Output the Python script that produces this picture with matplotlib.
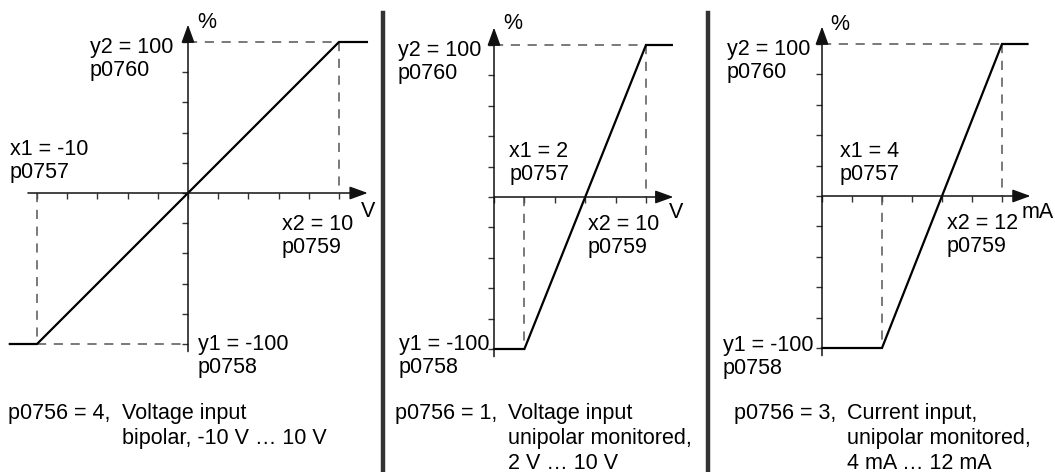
import matplotlib
matplotlib.use("Agg")
import matplotlib.pyplot as plt
from matplotlib.lines import Line2D

W, H = 1055, 472

plt.rcParams['font.family'] = ['Liberation Sans', 'DejaVu Sans']
plt.rcParams['font.size'] = 15.5

# corner points of the scaling characteristic (x in V / mA, y in %)
y1, y2 = -100, 100
x1_vals = [-10, 2, 4]
x2_vals = [10, 10, 12]

# characteristic incl. the limited (flat) parts
curve_x = [
    [-11.8, -10, 10, 11.85],
    [0, 2, 10, 11.7],
    [0, 4, 12, 13.7],
]
curve_y = [
    [-100, -100, 100, 100],
    [-100, -100, 100, 100],
    [-100, -100, 100, 100],
]

x_ticks = [list(range(-10, 11, 2)), list(range(0, 11, 2)), list(range(0, 13, 2))]
y_ticks = list(range(-100, 101, 20))
units = ["V", "V", "mA"]

x1_labels = ["x1 = -10\np0757", "x1 = 2\np0757", "x1 = 4\np0757"]
x2_labels = ["x2 = 10\np0759", "x2 = 10\np0759", "x2 = 12\np0759"]
y1_label = "y1 = -100\np0758"
y2_label = "y2 = 100\np0760"
codes = ["p0756 = 4,", "p0756 = 1,", "p0756 = 3,"]
descriptions = [
    "Voltage input\nbipolar, -10 V \u2026 10 V",
    "Voltage input\nunipolar monitored,\n2 V \u2026 10 V",
    "Current input,\nunipolar monitored,\n4 mA \u2026 12 mA",
]

# layout in pixels
frames = [(0, 383), (383, 325), (708, 347)]
origins = [(188, 193), (494, 197), (822, 196)]
scales = [(15.1, 1.51), (15.2, 1.52), (15.0, 1.52)]
x_axis_start = [-10.6, 0, 0]
x_axis_end = [11.9, 11.8, 13.9]
y_axis_start, y_axis_end = -105, 111.5

# label offsets (left edge / first baseline) from the point they belong to
y2_off = [(-98, -11), (-96, -11), (-95, -11)]
x1_off = [(-27, 38), (-15, 40), (-42, 39)]
x2_off = [(-57, -37), (-58, -33), (-55, -33)]
y1_off = [(10, -6), (-95, -1), (-99, -3)]
pct_off = [(19, 2), (19, 4), (18, 2)]
unit_off = [(0, -19), (3, -15), (7, -17)]
code_left = [8, 395, 734]
desc_left = [122, 508, 847]
caption_base = 419
label_step = 23
caption_step = 25

fig = plt.figure(figsize=(W / 100, H / 100), dpi=100)

dash = (0, (6, 5))
gray = '#555555'


def label(ax, text, xy, off):
    # one text per line so every baseline sits where it should
    for k, line in enumerate(text.split('\n')):
        ax.annotate(line, xy=xy, xytext=(off[0], off[1] - k * label_step),
                    textcoords='offset pixels', ha='left', va='baseline')


for i in range(3):
    left, width = frames[i]
    ox, oy = origins[i]
    sx, sy = scales[i]
    ax = fig.add_axes([left / W, 0, width / W, 1])
    ax.set_xlim((left - ox) / sx, (left + width - ox) / sx)
    ax.set_ylim(-(H - oy) / sy, oy / sy)
    ax.patch.set_visible(False)

    # ticks on the axes through the origin
    for s in ['left', 'bottom']:
        ax.spines[s].set_position(('data', 0))
        ax.spines[s].set_visible(False)
    for s in ['right', 'top']:
        ax.spines[s].set_visible(False)
    ax.set_xticks(x_ticks[i])
    ax.set_yticks(y_ticks)
    ax.tick_params(direction='out', length=4.3, width=1.0, color='#333333',
                   labelbottom=False, labelleft=False)

    # axes with arrow heads
    arrow = dict(arrowstyle='-|>,head_length=1.1,head_width=0.4', lw=1.1,
                 color='#111111', shrinkA=0, shrinkB=0, mutation_scale=10)
    ax.annotate('', xy=(x_axis_end[i], 0), xytext=(x_axis_start[i], 0), arrowprops=arrow)
    ax.annotate('', xy=(0, y_axis_end), xytext=(0, y_axis_start), arrowprops=arrow)

    # dashed helper lines
    x1, x2 = x1_vals[i], x2_vals[i]
    ax.plot([0, x2], [y2, y2], color=gray, lw=1.1, linestyle=dash)
    ax.plot([x2, x2], [y2, 0], color=gray, lw=1.1, linestyle=dash)
    ax.plot([x1, x1], [0, y1], color=gray, lw=1.1, linestyle=dash)
    if x1 < 0:
        ax.plot([x1, 0], [y1, y1], color=gray, lw=1.1, linestyle=dash)

    ax.plot(curve_x[i], curve_y[i], color='black', lw=1.6, solid_joinstyle='miter')

    # labels
    label(ax, y2_label, (0, y2), y2_off[i])
    label(ax, x1_labels[i], (x1, 0), x1_off[i])
    label(ax, x2_labels[i], (x2, 0), x2_off[i])
    label(ax, y1_label, (0, y1), y1_off[i])
    ax.annotate('%', xy=(0, y_axis_end), xytext=pct_off[i], textcoords='offset pixels',
                ha='center', va='center')
    ax.annotate(units[i], xy=(x_axis_end[i], 0), xytext=unit_off[i], textcoords='offset pixels',
                ha='center', va='center')

    # caption
    fig.text(code_left[i] / W, 1 - caption_base / H, codes[i], va='baseline')
    for k, line in enumerate(descriptions[i].split('\n')):
        fig.text(desc_left[i] / W, 1 - (caption_base + k * caption_step) / H, line,
                 va='baseline')

# separators between the three cases
for xp in [383, 708]:
    fig.add_artist(Line2D([xp / W, xp / W], [0, 1 - 13 / H], color='#333333', lw=3.2))

fig.savefig('out.png', dpi=100)
